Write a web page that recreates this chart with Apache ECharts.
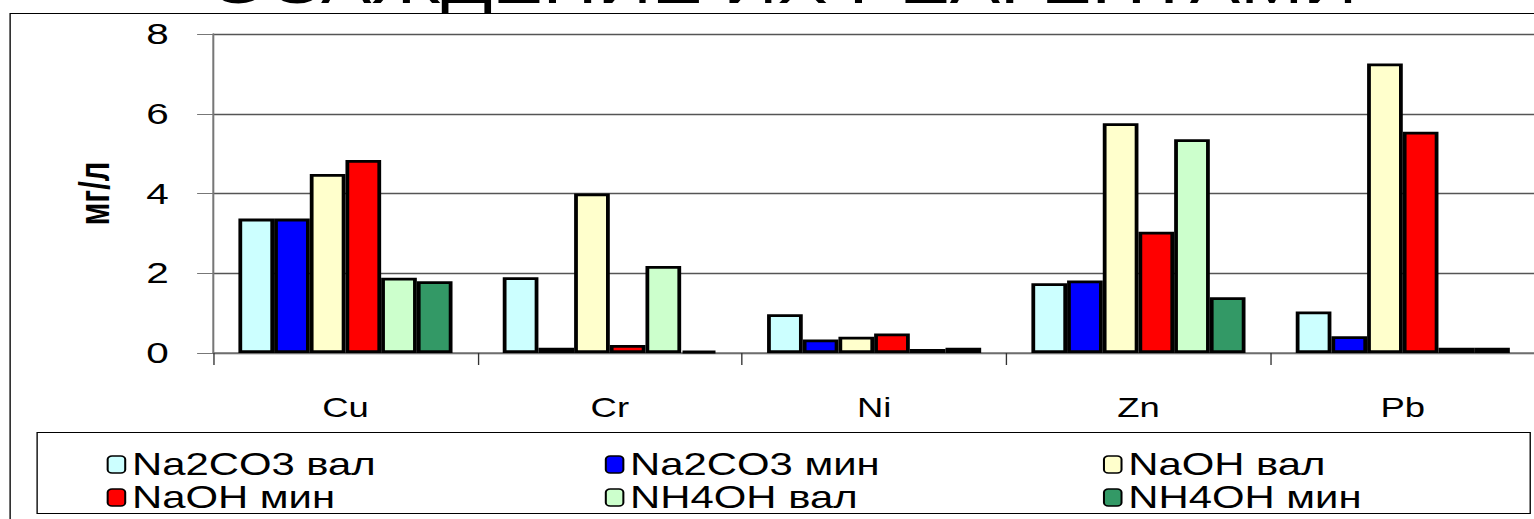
<!DOCTYPE html>
<html>
<head>
<meta charset="utf-8">
<script src="https://cdn.jsdelivr.net/npm/echarts@6/dist/echarts.min.js"></script>
<style>
  html, body { margin: 0; padding: 0; background: #fff; overflow: hidden; }
  /* исходный слайд растянут по горизонтали, поэтому рисуем уже и растягиваем */
  #chart { width: 1137px; height: 519px; transform: scaleX(1.35); transform-origin: 0 0; }
</style>
</head>
<body>
<div id="chart"></div>
<script>
// металлы
const metals = ['Cu', 'Cr', 'Ni', 'Zn', 'Pb']
const yTicks = [0, 2, 4, 6, 8]

// концентрации, мг/л
const na2co3Val = [3.37, 1.9, 0.97, 1.75, 1.04]
const na2co3Min = [3.37, 0.13, 0.34, 1.82, 0.42]
const naohVal = [4.49, 4.0, 0.41, 5.76, 7.26]
const naohMin = [4.84, 0.2, 0.49, 3.04, 5.55]
const nh4ohVal = [1.89, 2.18, 0.1, 5.36, 0.13]
const nh4ohMin = [1.8, 0.05, 0.13, 1.4, 0.13]

const seriesNames = ['Na2CO3 вал', 'Na2CO3 мин', 'NaOH вал', 'NaOH мин', 'NH4OH вал', 'NH4OH мин']
const seriesData = [na2co3Val, na2co3Min, naohVal, naohMin, nh4ohVal, nh4ohMin]
const colors = ['#CCFFFF', '#0000FF', '#FFFFCC', '#FF0000', '#CCFFCC', '#339966']

const font = "'Liberation Sans', Arial, sans-serif"

const myChart = echarts.init(document.getElementById('chart'), null, { renderer: 'svg' })

// легенда: три колонки по два элемента
const legendCols = [
  { left: 74, data: [seriesNames[0], seriesNames[3]] },
  { left: 443, data: [seriesNames[1], seriesNames[4]] },
  { left: 812, data: [seriesNames[2], seriesNames[5]] }
]

const option = {
  backgroundColor: '#fff',
  animation: false,
  graphic: [
    // заголовок слайда, виден только краешек над рамкой
    {
      type: 'text', z: 0, silent: true,
      x: 155, y: -16,
      style: {
        text: 'ОСАЖДЕНИЕ ИХ РЕАГЕНТАМИ',
        font: '56px ' + font,
        fill: '#000',
        verticalAlign: 'middle'
      }
    },
    // белая полоса под рамкой прячет остаток заголовка
    {
      type: 'rect', z: 1, silent: true,
      shape: { x: 140, y: 14, width: 1000, height: 19 },
      style: { fill: '#fff' }
    },
    // рамка диаграммы
    {
      type: 'rect', z: 2, silent: true,
      shape: { x: 7.5, y: 13.5, width: 1200, height: 600 },
      style: { fill: 'none', stroke: '#000', lineWidth: 1 }
    },
    // рамка легенды
    {
      type: 'rect', z: 2, silent: true,
      shape: { x: 27.5, y: 432.5, width: 1106, height: 81 },
      style: { fill: 'none', stroke: '#000', lineWidth: 1 }
    }
  ],
  legend: legendCols.map(c => ({
    orient: 'vertical',
    left: c.left,
    top: 444,
    data: c.data,
    itemWidth: 13,
    itemHeight: 17,
    itemGap: 2,
    itemStyle: { borderColor: '#000', borderWidth: 1.5 },
    textStyle: { fontFamily: font, fontSize: 31, color: '#000', lineHeight: 31 }
  })),
  grid: { left: 158, right: 0, top: 34, bottom: 166, containLabel: false },
  xAxis: {
    type: 'category',
    data: metals,
    axisLine: { lineStyle: { color: '#777', width: 1.5 } },
    axisTick: { show: true, length: 12, lineStyle: { color: '#333', width: 1 } },
    axisLabel: { fontFamily: font, fontSize: 27, color: '#000', margin: 41 }
  },
  yAxis: {
    type: 'value',
    min: 0,
    max: 8,
    interval: 2,
    name: 'мг/л',
    nameLocation: 'middle',
    nameRotate: 90,
    nameGap: 72,
    nameTextStyle: { fontFamily: font, fontSize: 31, fontWeight: 'bold', color: '#000' },
    axisLine: { show: true, lineStyle: { color: '#777', width: 1.5 } },
    axisTick: { show: true, length: 12, lineStyle: { color: '#777', width: 1 } },
    axisLabel: {
      fontFamily: font, fontSize: 30, color: '#000', margin: 33,
      formatter: v => (yTicks.indexOf(v) >= 0 ? String(v) : '')
    },
    splitLine: { lineStyle: { color: '#555', width: 1.3 } }
  },
  series: seriesData.map((d, i) => ({
    name: seriesNames[i],
    type: 'bar',
    data: d,
    barGap: '0%',
    barCategoryGap: '19%',
    itemStyle: { color: colors[i], borderColor: '#000', borderWidth: 2.8 }
  }))
}

myChart.setOption(option)
</script>
</body>
</html>
